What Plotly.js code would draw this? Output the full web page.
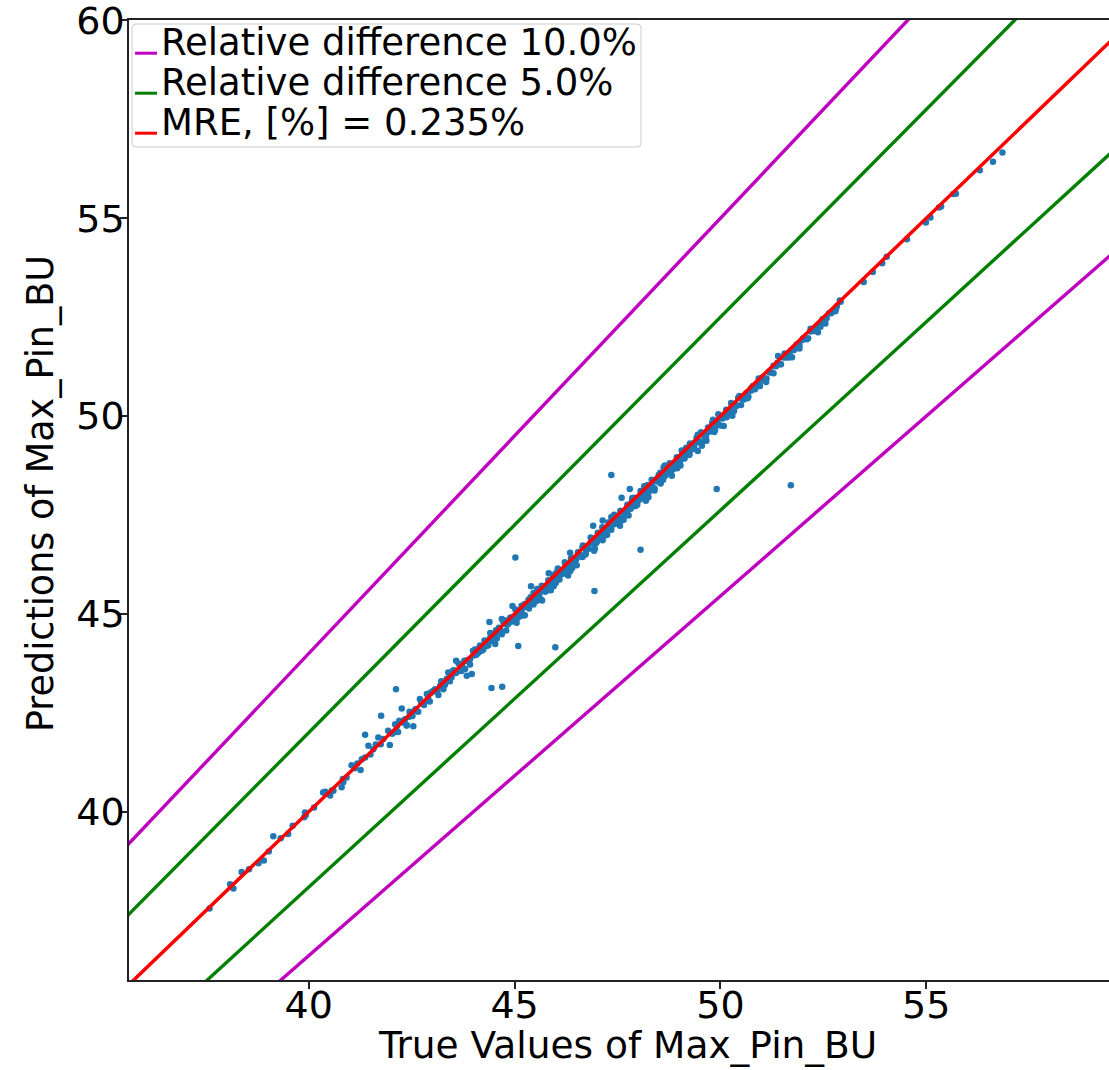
<!DOCTYPE html>
<html>
<head>
<meta charset="utf-8">
<script src="https://cdn.plot.ly/plotly-3.0.1.min.js"></script>
<style>
html, body { margin: 0; padding: 0; background: #ffffff; overflow: hidden; }
#wrap { width: 1109px; height: 1070px; overflow: hidden; position: relative; }
#plot { width: 1125px; height: 1070px; }
</style>
</head>
<body>
<div id="wrap"><div id="plot"></div></div>
<script>
// ---------------- DATA ----------------
const trueVals = [
  37.59,38.09,38.17,38.37,38.55,38.78,38.91,39.03,39.14,39.32,39.50,39.61,39.89,39.93,40.13,40.35,40.52,40.56,40.80,40.84,40.92,
  39.91,40.40,40.60,40.83,
  41.04,41.29,41.26,41.37,41.45,41.57,41.69,41.81,41.97,41.93,42.14,42.26,42.26,42.34,42.38,42.54,42.50,42.62,42.74,42.70,42.90,42.99,43.07,43.19,43.27,43.35,43.39,43.47,43.59,43.58,43.68,43.80,43.84,43.96,43.92,44.08,44.20,44.32,44.45,44.53,
  44.12,44.16,44.24,44.28,44.36,44.40,44.47,
  41.12,41.18,41.50,41.63,41.75,42.05,42.20,42.44,42.80,42.95,43.12,43.23,43.31,43.43,43.52,43.64,43.73,43.88,44.00,44.04,
  44.50,44.54,44.57,44.62,44.66,44.68,44.73,44.77,44.80,44.86,44.90,44.94,44.97,45.02,45.06,45.08,45.13,45.17,45.20,45.26,
  45.30,45.34,45.37,45.42,45.46,45.48,45.53,45.57,45.60,45.66,45.70,45.74,45.77,45.82,45.86,45.88,45.93,45.97,46.00,46.06,
  46.10,46.14,46.17,46.22,46.26,46.28,46.33,46.37,46.40,46.46,46.50,46.54,46.57,46.62,46.66,46.68,46.73,46.77,46.80,46.86,
  46.90,46.94,46.97,47.02,47.06,47.08,47.13,47.17,47.20,47.26,47.30,47.34,47.37,47.42,47.46,47.48,47.53,47.57,47.60,47.66,
  47.70,47.74,47.77,47.82,47.86,47.88,47.93,47.97,48.00,48.06,48.10,48.14,48.17,48.22,48.26,48.28,48.33,48.37,48.40,48.46,
  48.50,48.54,48.57,48.62,48.66,48.68,48.73,48.77,48.80,48.86,48.90,48.94,48.97,49.02,49.06,49.08,49.13,49.17,49.20,49.26,
  49.30,49.34,49.37,49.42,49.46,49.48,49.53,49.57,49.60,49.66,49.70,49.74,49.77,49.82,49.86,49.88,49.93,49.97,50.00,50.06,
  50.10,50.14,50.17,50.22,50.26,50.28,50.33,50.37,50.40,50.46,
  50.52,50.57,50.63,50.68,50.74,50.79,50.85,50.90,50.96,51.01,51.07,51.12,51.18,51.24,51.29,51.35,51.40,51.46,51.53,51.59,
  51.66,51.72,51.79,51.85,51.92,51.98,52.06,52.13,52.19,52.27,52.36,52.43,52.50,52.58,52.69,52.79,52.83,52.92,
  45.05,45.15,45.25,45.35,45.45,45.55,45.65,45.75,45.85,45.95,46.05,46.15,46.25,46.35,46.45,46.55,46.65,46.75,46.85,46.95,
  47.05,47.15,47.25,47.35,47.45,47.55,47.65,47.75,47.85,47.95,48.05,48.15,48.25,48.35,48.45,48.55,48.65,48.75,48.85,48.95,
  49.05,49.15,49.25,49.35,49.45,49.55,49.65,49.75,49.85,49.95,50.05,
  42.03,42.10,42.17,42.24,42.31,42.38,42.45,42.52,42.59,42.66,42.73,42.80,42.87,42.94,43.01,43.08,43.15,43.22,43.29,43.36,
  43.43,43.50,43.57,43.64,43.71,43.78,43.85,43.92,43.99,44.06,44.13,44.20,44.27,44.34,44.41,44.48,44.55,44.62,44.69,44.76,
  44.83,44.90,44.97,45.04,
  45.11,45.18,45.25,45.32,45.39,45.46,45.53,45.60,45.67,45.74,45.81,45.88,45.95,46.02,46.09,46.16,46.23,46.30,46.37,46.44,
  46.51,46.58,46.65,46.72,46.79,46.86,46.93,47.00,47.07,47.14,47.21,47.28,47.35,47.42,47.49,47.56,47.63,47.70,47.77,47.84,
  47.91,47.98,48.05,48.12,48.19,48.26,48.33,48.40,48.47,48.54,48.61,48.68,48.75,48.82,48.89,48.96,49.03,49.10,49.17,49.24,
  49.31,49.38,49.45,49.52,49.59,49.66,49.73,49.80,49.87,49.94,50.01,50.08,50.15,50.22,50.29,50.36,50.43,50.50,
  50.57,50.66,50.75,50.84,50.93,51.02,51.11,51.20,51.29,51.38,51.47,51.56,51.65,51.74,51.83,51.92,52.01,52.10,52.19,52.28,
  52.37,52.46,52.55,52.64,
  52.48,52.81,52.90,53.48,53.70,53.93,54.04,54.53,54.99,55.10,55.31,55.36,55.66,55.72,56.30,56.62,56.85,
  47.80,47.60,45.40,44.39,44.95,47.14,46.91,46.35,45.83,44.69,
  42.12,41.76,41.37,44.44,44.70,45.02,45.09,45.99,46.94,48.06,47.35,49.91,51.71
];
const predVals = [
  37.56,38.17,38.06,38.48,38.55,38.70,38.77,39.00,39.38,39.33,39.44,39.65,39.86,39.92,40.11,40.49,40.41,40.54,40.62,40.75,40.87,
  39.98,40.51,40.53,40.83,
  41.18,41.33,41.06,41.37,41.67,41.58,41.88,41.84,41.69,42.05,42.16,42.26,42.61,42.34,42.19,42.16,42.47,42.55,42.76,42.85,42.89,43.02,43.10,43.18,43.10,43.35,43.52,43.40,43.52,43.82,43.65,43.61,43.44,43.48,43.86,43.98,44.11,44.19,44.32,44.24,
  44.02,44.20,44.10,44.25,44.21,44.38,44.36,
  41.10,41.22,41.45,41.70,41.71,42.00,42.30,42.40,42.70,43.00,43.05,43.28,43.22,43.45,43.58,43.58,43.70,43.80,43.95,44.10,
  44.39,44.50,44.38,44.65,44.58,44.53,44.79,44.75,44.58,44.77,44.91,44.81,44.91,45.11,44.89,45.05,45.03,45.21,44.96,45.19,
  45.18,45.36,45.32,45.26,45.53,45.47,45.33,45.48,45.46,45.71,45.59,45.70,45.58,45.85,45.78,45.73,45.99,45.95,45.78,45.97,
  46.11,46.01,46.11,46.31,46.09,46.25,46.23,46.41,46.16,46.39,46.38,46.56,46.52,46.46,46.73,46.67,46.53,46.68,46.66,46.91,
  46.79,46.90,46.78,47.05,46.98,46.93,47.19,47.15,46.98,47.17,47.31,47.21,47.31,47.51,47.29,47.45,47.43,47.61,47.36,47.59,
  47.58,47.76,47.72,47.66,47.93,47.87,47.73,47.88,47.86,48.11,47.99,48.10,47.98,48.25,48.18,48.13,48.39,48.35,48.18,48.37,
  48.51,48.41,48.51,48.71,48.49,48.65,48.63,48.81,48.56,48.79,48.78,48.96,48.92,48.86,49.13,49.07,48.93,49.08,49.06,49.31,
  49.19,49.30,49.18,49.45,49.38,49.33,49.59,49.55,49.38,49.57,49.71,49.61,49.71,49.91,49.69,49.85,49.83,50.01,49.76,49.99,
  49.98,50.16,50.12,50.06,50.33,50.27,50.13,50.28,50.26,50.51,
  50.44,50.42,50.58,50.49,50.64,50.76,50.71,50.83,50.76,50.97,50.95,50.95,51.12,51.11,51.27,51.26,51.52,51.31,51.48,51.48,
  51.48,51.65,51.67,51.81,51.78,51.92,51.96,51.97,52.14,52.15,52.28,52.26,52.44,52.47,52.60,52.65,52.78,52.89,
  44.78,45.02,45.25,45.14,45.36,45.63,45.35,45.59,45.81,45.70,46.15,46.04,46.06,46.08,46.32,46.55,46.44,46.66,46.93,46.65,
  46.89,47.11,47.00,47.45,47.34,47.36,47.38,47.62,47.85,47.74,47.96,48.23,47.95,48.19,48.41,48.30,48.75,48.64,48.66,48.68,
  48.92,49.15,49.04,49.26,49.53,49.25,49.49,49.71,49.60,50.05,49.94,
  41.97,42.21,42.02,42.28,42.29,42.18,42.53,42.42,42.59,42.53,42.79,42.74,42.98,42.79,43.05,43.06,42.95,43.30,43.19,43.36,
  43.30,43.56,43.51,43.75,43.56,43.82,43.83,43.72,44.07,43.96,44.13,44.07,44.33,44.28,44.52,44.33,44.59,44.60,44.49,44.84,
  44.73,44.90,44.84,45.10,
  44.93,45.11,44.97,45.20,45.42,45.24,45.38,45.55,45.34,45.56,45.74,45.60,45.83,46.05,45.87,46.01,46.18,45.97,46.19,46.37,
  46.23,46.46,46.68,46.50,46.64,46.81,46.60,46.82,47.00,46.86,47.09,47.31,47.13,47.27,47.44,47.23,47.45,47.63,47.49,47.72,
  47.94,47.76,47.90,48.07,47.86,48.08,48.26,48.12,48.35,48.57,48.39,48.53,48.70,48.49,48.71,48.89,48.75,48.98,49.20,49.02,
  49.16,49.33,49.12,49.34,49.52,49.38,49.61,49.83,49.65,49.79,49.96,49.75,49.97,50.15,50.01,50.24,50.46,50.28,
  50.47,50.45,50.71,50.68,50.95,50.90,50.86,51.10,51.08,51.34,51.31,51.58,51.53,51.49,51.73,51.71,51.97,51.94,52.21,52.16,
  52.12,52.36,52.34,52.60,
  52.45,52.72,52.92,53.39,53.64,53.86,54.03,54.47,54.89,55.02,55.27,55.30,55.61,55.62,56.21,56.43,56.66,
  48.16,47.94,45.70,44.80,45.20,47.36,47.23,46.55,46.03,44.87,
  43.10,42.43,41.95,43.13,43.16,46.43,44.19,44.16,45.58,46.62,48.51,48.16,48.25
];
const relDiffs = [0.10, 0.05];                 // relative-difference bands
const mreText = "MRE, [%] = 0.235%";
const legendLabels = ["Relative difference 10.0%", "Relative difference 5.0%", mreText];
const xTicks = [40, 45, 50, 55];
const yTicks = [40, 45, 50, 55, 60];
const xTitle = "True Values of Max_Pin_BU";
const yTitle = "Predictions of Max_Pin_BU";
const lineExtent = [30, 65];                   // x span of the reference lines

// ---------------- STYLE ----------------
const FONT = "DejaVu Sans";
const colMag = "#bf00bf", colGreen = "#008000", colRed = "#ff0000", colPts = "#1f77b4";
const bandColors = [colMag, colGreen];
const W = 1125, H = 1070;
const M = { l: 129, r: 0, t: 20, b: 90 };
const PW = W - M.l - M.r, PH = H - M.t - M.b;
const xRange = [35.635, 35.635 + PW / 41.17];
const yRange = [35.75, 60.01];

const px = v => (v - M.l) / PW;          // pixel -> paper x
const py = v => 1 - (v - M.t) / PH;      // pixel -> paper y

// ---------------- TRACES ----------------
const traces = [];
traces.push({
  x: trueVals, y: predVals, type: "scatter", mode: "markers",
  marker: { color: colPts, size: 6.5, line: { width: 0 } },
  showlegend: false, hoverinfo: "x+y"
});
relDiffs.forEach((r, i) => {
  traces.push({
    x: lineExtent, y: lineExtent.map(v => v * (1 + r)), type: "scatter", mode: "lines",
    line: { color: bandColors[i], width: 3.4 }, showlegend: false, name: legendLabels[i]
  });
  traces.push({
    x: lineExtent, y: lineExtent.map(v => v / (1 + r)), type: "scatter", mode: "lines",
    line: { color: bandColors[i], width: 3.4 }, showlegend: false, name: legendLabels[i]
  });
});
traces.push({
  x: lineExtent, y: lineExtent, type: "scatter", mode: "lines",
  line: { color: colRed, width: 3.5 }, showlegend: false, name: legendLabels[2]
});

// ---------------- LEGEND (drawn) ----------------
const legendColors = [colMag, colGreen, colRed];
const box = { x0: 132, y0: 24, x1: 641, y1: 147, r: 4 };
function roundRectPath(b) {
  const rx = b.r / PW, ry = b.r / PH;
  const X0 = px(b.x0), X1 = px(b.x1), Y0 = py(b.y0), Y1 = py(b.y1);
  return `M${X0 + rx},${Y0} L${X1 - rx},${Y0} Q${X1},${Y0} ${X1},${Y0 - ry} ` +
         `L${X1},${Y1 + ry} Q${X1},${Y1} ${X1 - rx},${Y1} L${X0 + rx},${Y1} ` +
         `Q${X0},${Y1} ${X0},${Y1 + ry} L${X0},${Y0 - ry} Q${X0},${Y0} ${X0 + rx},${Y0} Z`;
}
const shapes = [{
  type: "path", xref: "paper", yref: "paper", path: roundRectPath(box),
  fillcolor: "rgba(255,255,255,0.8)", line: { color: "#cccccc", width: 1 }, layer: "above"
}];
const annotations = [];
const rowBase = [55, 95, 135];
legendLabels.forEach((lab, i) => {
  const hy = rowBase[i] - 1.8;
  shapes.push({
    type: "line", xref: "paper", yref: "paper",
    x0: px(135), x1: px(157), y0: py(hy), y1: py(hy),
    line: { color: legendColors[i], width: 3 }, layer: "above"
  });
  annotations.push({
    xref: "paper", yref: "paper", x: px(159), y: py(rowBase[i] - 12.6),
    xanchor: "left", yanchor: "middle", showarrow: false, text: lab,
    font: { family: FONT, size: 37, color: "#000000" }
  });
});

// axis titles placed as text annotations for exact positioning
annotations.push({
  xref: "paper", yref: "paper", x: px(627), y: py(1045),
  xanchor: "center", yanchor: "middle", showarrow: false, text: xTitle,
  font: { family: FONT, size: 37.5, color: "#000000" }
});
annotations.push({
  xref: "paper", yref: "paper", x: px(40), y: py(494), textangle: -90,
  xanchor: "center", yanchor: "middle", showarrow: false, text: yTitle,
  font: { family: FONT, size: 36.5, color: "#000000" }
});

// ---------------- LAYOUT ----------------
const axisCommon = {
  showgrid: false, zeroline: false, showline: true, mirror: true,
  linecolor: "#222222", linewidth: 1.5,
  ticks: "outside", ticklen: 7, tickwidth: 1.5, tickcolor: "#222222",
  tickfont: { family: FONT, size: 38, color: "#000000" },
  ticklabeloverflow: "allow",
  automargin: false
};
const layout = {
  width: W, height: H,
  margin: M,
  paper_bgcolor: "#ffffff", plot_bgcolor: "#ffffff",
  showlegend: false,
  font: { family: FONT, size: 37, color: "#000000" },
  xaxis: Object.assign({}, axisCommon, {
    range: xRange, tickmode: "array", tickvals: xTicks, ticktext: xTicks.map(String),
    ticklabelstandoff: -16
  }),
  yaxis: Object.assign({}, axisCommon, {
    range: yRange, tickmode: "array", tickvals: yTicks, ticktext: yTicks.map(String),
    ticklabelstandoff: -12
  }),
  shapes: shapes,
  annotations: annotations
};

Plotly.newPlot("plot", traces, layout, { displayModeBar: false, responsive: false });
</script>
</body>
</html>
